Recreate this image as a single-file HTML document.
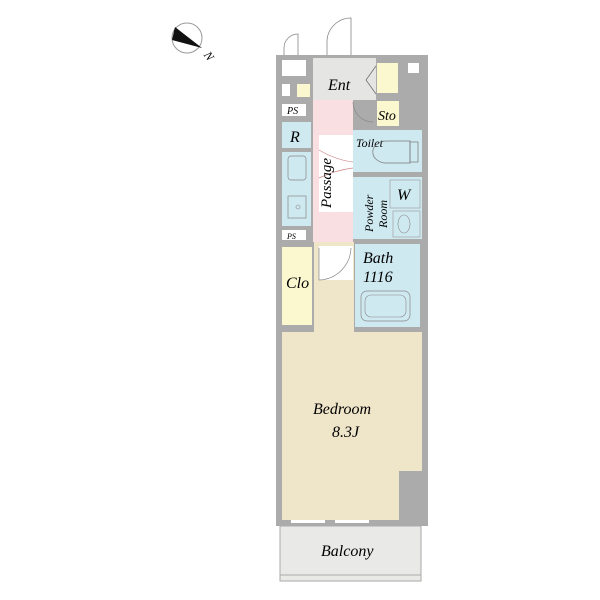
<!DOCTYPE html>
<html><head><meta charset="utf-8"><style>
html,body{margin:0;padding:0;background:#fff;width:600px;height:600px;overflow:hidden}
svg text{font-family:"Liberation Serif",serif;font-style:italic;fill:#000}
</style></head><body>
<svg width="600" height="600" viewBox="0 0 600 600" xmlns="http://www.w3.org/2000/svg">
<!-- compass -->
<circle cx="187" cy="38" r="15" fill="none" stroke="#999" stroke-width="1"/>
<polygon points="175,27 202,48 172,40" fill="#111"/>
<text x="205" y="60" font-size="12" font-style="normal" transform="rotate(55 209 56)">N</text>
<!-- door swings top -->
<path d="M284,56 L284,48 A14,14 0 0 1 298,34 L298,56" fill="none" stroke="#888" stroke-width="0.8"/>
<path d="M327,56 L327,42 A24,24 0 0 1 351,18 L351,56" fill="none" stroke="#888" stroke-width="0.8"/>
<!-- balcony -->
<rect x="280" y="526" width="141" height="55" fill="#e9e9e7" stroke="#aaa" stroke-width="1"/>
<line x1="280" y1="575" x2="421" y2="575" stroke="#aaa"/>
<!-- outer walls -->
<rect x="276" y="55" width="152" height="471" fill="#ababab"/>
<!-- bedroom -->
<polygon points="282,332 422,332 422,471 399,471 399,520 282,520" fill="#efe5c9"/>
<rect x="291" y="520" width="34" height="3" fill="#fff"/>
<rect x="335" y="520" width="34" height="3" fill="#fff"/>
<!-- top left small rooms -->
<rect x="282" y="60" width="24" height="16" fill="#fff"/>
<rect x="282" y="84" width="8" height="12" fill="#fff"/>
<rect x="297" y="84" width="13" height="13" fill="#fbf7cf"/>
<rect x="282" y="104" width="24" height="12" fill="#fff"/>
<text x="287" y="114" font-size="10">PS</text>
<!-- ent -->
<rect x="313" y="58" width="63" height="42" fill="#e5e5e3"/>
<text x="328" y="90" font-size="16">Ent</text>
<path d="M376,66 L366,80 L376,94" fill="none" stroke="#666" stroke-width="0.7"/>
<rect x="377" y="63" width="21" height="30" fill="#fbf7cf"/>
<rect x="408" y="63" width="11" height="10" fill="#fff"/>
<rect x="377" y="101" width="22" height="25" fill="#fbf7cf"/>
<text x="378" y="120" font-size="14">Sto</text>
<!-- passage -->
<rect x="313" y="100" width="40" height="142" fill="#f9dfe2"/>
<rect x="319" y="135" width="34" height="77" fill="#fff"/>
<path d="M353,102 A20,20 0 0 0 373,122" fill="none" stroke="#888" stroke-width="0.7"/>
<path d="M319,150 Q336,160 353,162 M319,178 Q336,170 353,168" fill="none" stroke="#c88" stroke-width="0.7"/>
<text x="0" y="0" font-size="15" transform="translate(331,208) rotate(-90)">Passage</text>
<!-- R -->
<rect x="282" y="122" width="29" height="26" fill="#cfe9f1"/>
<text x="290" y="142" font-size="16">R</text>
<!-- kitchen -->
<rect x="282" y="152" width="29" height="74" fill="#cfe9f1"/>
<rect x="288" y="156" width="18" height="24" rx="3" fill="none" stroke="#888" stroke-width="0.7"/>
<rect x="288" y="196" width="18" height="22" fill="none" stroke="#888" stroke-width="0.7"/>
<circle cx="298" cy="207" r="2" fill="none" stroke="#888" stroke-width="0.6"/>
<rect x="282" y="230" width="24" height="10" fill="#fff"/>
<text x="287" y="239" font-size="8">PS</text>
<!-- toilet -->
<rect x="353" y="130" width="69" height="42" fill="#cfe9f1"/>
<text x="356" y="147" font-size="12">Toilet</text>
<path d="M410,141 L386,141 A12,10 0 0 0 386,163 L410,163 Z" fill="none" stroke="#777" stroke-width="0.7"/>
<rect x="410" y="142" width="8" height="20" fill="none" stroke="#777" stroke-width="0.7"/>
<!-- powder room -->
<rect x="353" y="177" width="69" height="62" fill="#cfe9f1"/>
<rect x="390" y="180" width="30" height="28" fill="none" stroke="#999" stroke-width="0.6"/>
<text x="397" y="200" font-size="16">W</text>
<rect x="393" y="211" width="27" height="26" fill="none" stroke="#999" stroke-width="0.6"/>
<ellipse cx="404" cy="224" rx="6" ry="9" fill="none" stroke="#888" stroke-width="0.6"/>
<text x="0" y="0" font-size="12" transform="translate(373,232) rotate(-90)">Powder</text>
<text x="0" y="0" font-size="12" transform="translate(387,228) rotate(-90)">Room</text>
<!-- clo -->
<rect x="282" y="247" width="30" height="78" fill="#fbf7cf"/>
<text x="286" y="288" font-size="16">Clo</text>
<!-- bath area -->
<rect x="314" y="242" width="40" height="90" fill="#efe5c9"/>
<rect x="319" y="246" width="34" height="34" fill="#fff"/>
<path d="M319,248 L319,280 A33,33 0 0 0 351,248" fill="none" stroke="#888" stroke-width="0.7"/>
<rect x="355" y="244" width="65" height="83" fill="#cfe9f1"/>
<text x="363" y="263" font-size="16">Bath</text>
<text x="363" y="282" font-size="16">1116</text>
<rect x="361" y="291" width="49" height="30" rx="6" fill="none" stroke="#888" stroke-width="0.7"/>
<rect x="365" y="295" width="41" height="22" rx="6" fill="none" stroke="#888" stroke-width="0.6"/>
<!-- labels -->
<text x="313" y="414" font-size="16">Bedroom</text>
<text x="332" y="437" font-size="16">8.3J</text>
<text x="321" y="556" font-size="16">Balcony</text>
</svg>
</body></html>
